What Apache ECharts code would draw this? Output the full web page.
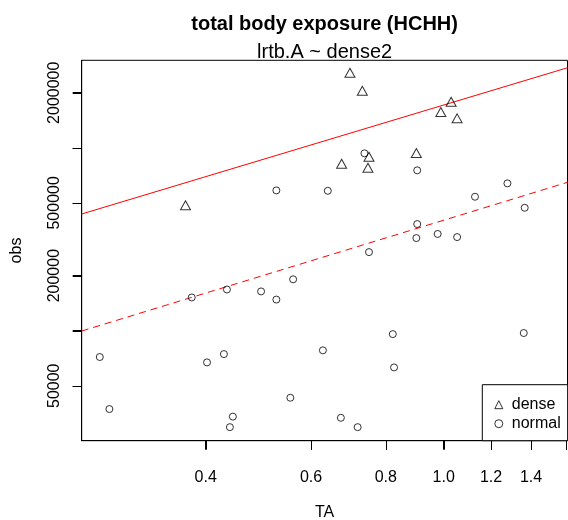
<!DOCTYPE html>
<html><head><meta charset="utf-8">
<script src="https://cdn.jsdelivr.net/npm/echarts@6/dist/echarts.min.js"></script>
<style>html,body{margin:0;padding:0;background:#fff}#c{width:568px;height:520px}</style>
</head><body><div id="c"></div>
<script>
// ---- data ----
const denseTA  = [0.697, 0.731, 1.029, 0.989, 1.053, 0.675, 0.750, 0.747, 0.900, 0.370];
const denseObs = [2573000, 2051000, 1786000, 1569000, 1449000, 818000, 894000, 778000, 936000, 485000];
const normalTA  = [0.266, 0.276, 0.379, 0.402, 0.429, 0.434, 0.439, 0.444, 0.495, 0.525,
                   0.525, 0.554, 0.560, 0.628, 0.640, 0.673, 0.718, 0.737, 0.750, 0.822,
                   0.826, 0.900, 0.903, 0.903, 0.977, 1.053, 1.128, 1.278, 1.361, 1.366];
const normalObs = [71800, 37300, 152000, 67100, 74500, 168000, 29700, 33900, 164000, 148000,
                   585000, 43000, 191000, 78100, 582000, 33400, 29700, 933000, 269000, 95800,
                   63000, 321000, 753000, 383000, 338000, 325000, 540000, 639000, 97100, 470000];
const fitTA     = [0.2481, 1.6107];
const denseFit  = [434600, 2740000];
const normalFit = [99600, 647600];
const xTicks = [0.4, 0.6, 0.8, 1.0, 1.2, 1.4, 1.6];
const xLabels = [0.4, 0.6, 0.8, 1.0, 1.2, 1.4];
const yTicks = [50000, 100000, 200000, 500000, 1000000, 2000000];
const yLabels = [50000, 200000, 500000, 2000000];
const xRange = [0.2481, 1.6107];
const yRange = [25040, 3009000];

const L = Math.log10;
const pts = (xs, ys) => xs.map((x, i) => [L(x), L(ys[i])]);
const FONT = '"Liberation Sans", Arial, Helvetica, sans-serif';
const AX = {color: '#000', width: 1};
const TICK_LEN = 9;

const chart = echarts.init(document.getElementById('c'), null, {renderer: 'canvas'});
chart.setOption({
  animation: false,
  backgroundColor: '#fff',
  textStyle: {fontFamily: FONT},
  title: [
    {text: 'total body exposure (HCHH)', left: 324.6, top: 14, textAlign: 'center', padding: 0,
     textStyle: {fontFamily: FONT, fontSize: 20, fontWeight: 'bold', color: '#000'}},
    {text: 'lrtb.A ~ dense2', left: 324.6, top: 42, textAlign: 'center', padding: 0,
     textStyle: {fontFamily: FONT, fontSize: 20, fontWeight: 'normal', color: '#000'}}
  ],
  grid: {left: 81.7, right: 0.5, top: 60.3, bottom: 79.3, show: true,
         outerBoundsMode: 'none', containLabel: false,
         borderColor: '#000', borderWidth: 1, backgroundColor: 'transparent'},
  legend: {
    orient: 'vertical', left: 482.3, bottom: 79.3,
    backgroundColor: '#fff', borderColor: '#000', borderWidth: 1, borderRadius: 0,
    padding: [12, 7, 9, 12], itemGap: 3, itemWidth: 8, itemHeight: 8,
    itemStyle: {color: 'rgba(0,0,0,0)', borderColor: '#000', borderWidth: 1},
    textStyle: {fontFamily: FONT, fontSize: 16, color: '#000', padding: [0, 0, 0, 4]},
    data: ['dense', 'normal']
  },
  xAxis: {
    type: 'value', min: L(xRange[0]), max: L(xRange[1]), position: 'bottom',
    name: 'TA', nameLocation: 'middle', nameGap: 64,
    nameTextStyle: {fontFamily: FONT, fontSize: 16, color: '#000'},
    axisLine: {show: true, onZero: false, lineStyle: AX},
    splitLine: {show: false},
    axisTick: {show: true, inside: false, length: TICK_LEN, lineStyle: AX, customValues: xTicks.map(L)},
    axisLabel: {show: true, margin: 29, fontFamily: FONT, fontSize: 16, color: '#000',
                customValues: xLabels.map(L),
                formatter: v => Math.pow(10, v).toFixed(1)}
  },
  yAxis: {
    type: 'value', min: L(yRange[0]), max: L(yRange[1]), position: 'left',
    name: 'obs', nameLocation: 'middle', nameGap: 57,
    nameTextStyle: {fontFamily: FONT, fontSize: 16, color: '#000'},
    axisLine: {show: true, onZero: false, lineStyle: AX},
    splitLine: {show: false},
    axisTick: {show: true, inside: false, length: TICK_LEN, lineStyle: AX, customValues: yTicks.map(L)},
    axisLabel: {show: true, rotate: 90, margin: 19, fontFamily: FONT, fontSize: 16, color: '#000',
                customValues: yLabels.map(L),
                formatter: v => String(Math.round(Math.pow(10, v)))}
  },
  series: [
    {name: 'dense', type: 'scatter', symbol: 'triangle', symbolSize: [10, 9],
     itemStyle: {color: 'rgba(0,0,0,0)', borderColor: '#000', borderWidth: 1},
     data: pts(denseTA, denseObs), z: 3},
    {name: 'normal', type: 'scatter', symbol: 'circle', symbolSize: 7,
     itemStyle: {color: 'rgba(0,0,0,0)', borderColor: '#000', borderWidth: 1},
     data: pts(normalTA, normalObs), z: 3},
    {name: 'denseFit', type: 'line', showSymbol: false, symbol: 'none',
     lineStyle: {color: '#ff0000', width: 1, type: 'solid'},
     data: pts(fitTA, denseFit), z: 2, silent: true},
    {name: 'normalFit', type: 'line', showSymbol: false, symbol: 'none',
     lineStyle: {color: '#ff0000', width: 1, type: [7, 5]},
     data: pts(fitTA, normalFit), z: 2, silent: true}
  ]
});

// tick marks placed through the chart's own scales
const tickEls = [];
xTicks.forEach(v => {
  const p = chart.convertToPixel({gridIndex: 0}, [L(v), L(yRange[0])]);
  const x = Math.round(p[0]) + 0.5;
  tickEls.push({type: 'line', z: 100, silent: true,
    shape: {x1: x, y1: p[1], x2: x, y2: p[1] + TICK_LEN},
    style: {stroke: '#000', lineWidth: 1}});
});
yTicks.forEach(v => {
  const p = chart.convertToPixel({gridIndex: 0}, [L(xRange[0]), L(v)]);
  const y = Math.round(p[1]) + 0.5;
  tickEls.push({type: 'line', z: 100, silent: true,
    shape: {x1: p[0] - TICK_LEN, y1: y, x2: p[0], y2: y},
    style: {stroke: '#000', lineWidth: 1}});
});
chart.setOption({graphic: tickEls});
</script></body></html>
